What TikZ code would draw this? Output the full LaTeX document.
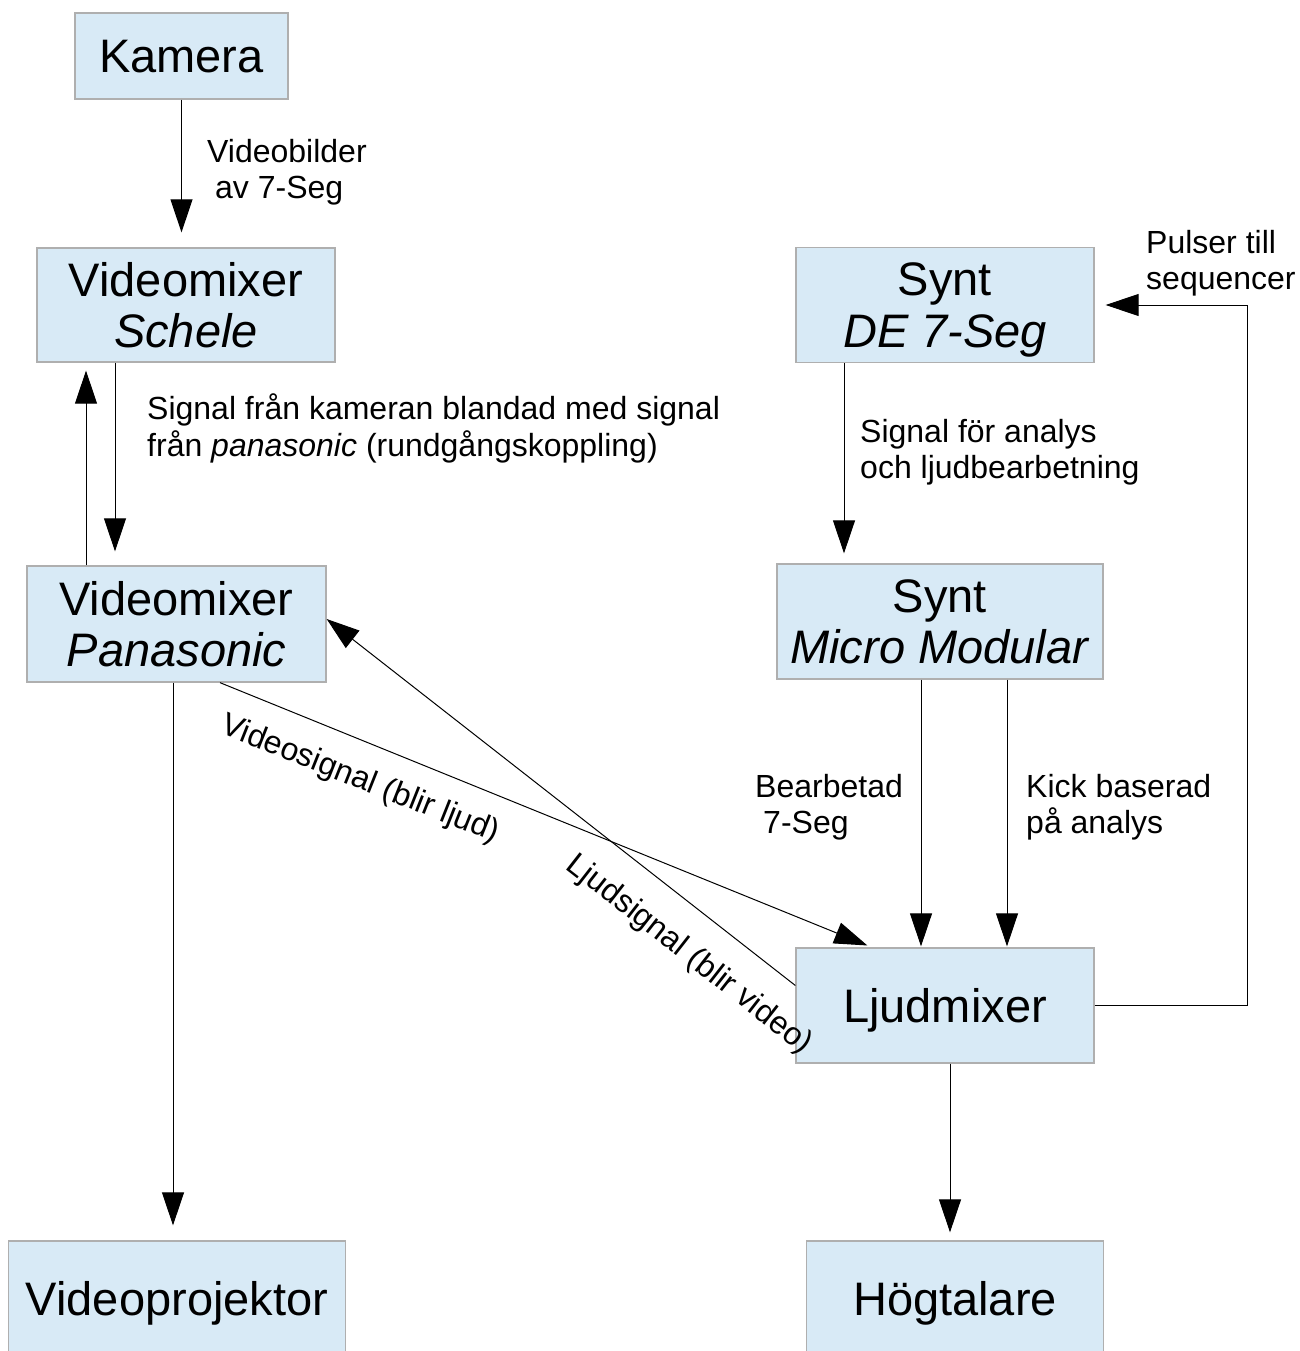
\documentclass[tikz,border=0pt]{standalone}
\usepackage{fontspec}
\setmainfont{Liberation Sans}
\usetikzlibrary{arrows.meta,calc}
\definecolor{boxfill}{RGB}{216,234,246}
\definecolor{boxline}{RGB}{175,175,175}
\begin{document}
\begin{tikzpicture}[x=1pt,y=-1pt,
  box/.style={draw=boxline, line width=1.3pt, fill=boxfill, inner sep=0pt,
    align=center, text depth=0pt, font=\fontsize{47}{51.5}\selectfont},
  lbl/.style={inner sep=0pt, align=left, anchor=north west, font=\fontsize{32}{36}\selectfont},
  rlbl/.style={inner sep=0pt, anchor=center, font=\fontsize{32}{36}\selectfont},
  arr/.style={draw=black, line width=1pt, -{Triangle[length=33pt,width=22pt]}},
]
\useasboundingbox (0,0) rectangle (1299,1351);

% boxes
\node[box, minimum width=213pt, minimum height=86pt]  (kam)  at (181.5,56)   {Kamera};
\node[box, minimum width=298pt, minimum height=114pt] (sch)  at (186,305)    {Videomixer\\\textit{Schele}};
\node[box, minimum width=299pt, minimum height=116pt] (pan)  at (176.5,624)  {Videomixer\\\textit{Panasonic}};
\node[box, minimum width=337pt, minimum height=114pt] (proj) at (177,1298)   {Videoprojektor};
\node[box, minimum width=298pt, minimum height=115pt] (de)   at (945,305)    {Synt\\\textit{DE 7-Seg}};
\node[box, minimum width=326pt, minimum height=115pt] (mm)   at (940,621.5)  {Synt\\\textit{Micro Modular}};
\node[box, minimum width=298pt, minimum height=115pt] (ljud) at (945,1005.5) {Ljudmixer};
\node[box, minimum width=297pt, minimum height=114pt] (hog)  at (955,1298)   {Högtalare};

% connectors
\draw[arr, shorten >=15pt] (kam.south) -- (kam.south |- sch.north);
\draw[arr, shorten >=14pt] ([xshift=-71pt]sch.south) -- ([xshift=-71pt]sch.south |- pan.north);
\draw[arr, shorten >=8pt] ([xshift=-90.5pt]pan.north) -- ([xshift=-90.5pt]pan.north |- sch.south);
\draw[arr, shorten >=15pt] ([xshift=-3.5pt]pan.south) -- ([xshift=-3.5pt]pan.south |- proj.north);
\coordinate (vsigend) at ([xshift=-73pt]ljud.north);
\draw[arr, shorten >=5pt] ([xshift=43.5pt]pan.south) -- (vsigend);
\draw[arr] ([yshift=20pt]ljud.west) -- ([yshift=5pt]pan.east);
\draw[arr, shorten >=10pt] ([xshift=-101pt]de.south) -- ([xshift=-101pt]de.south |- mm.north);
\draw[arr, shorten >=1pt] ([xshift=-19pt]mm.south) -- ([xshift=-19pt]mm.south |- ljud.north);
\draw[arr, shorten >=1pt] ([xshift=67pt]mm.south) -- ([xshift=67pt]mm.south |- ljud.north);
\draw[arr, shorten >=8pt] ([xshift=5pt]ljud.south) -- ([xshift=5pt]ljud.south |- hog.north);
\coordinate (pc) at (1247,305);
\draw[arr, shorten >=11pt] (ljud.east) -| (pc) -- (de.east);

% labels
\node[lbl] (l1) at (207,139) {Videobilder\\\hspace*{0.25em}av 7-Seg};
\node[lbl] (l2) at (147,394) {Signal från kameran blandad med signal\\från \textit{panasonic} (rundgångskoppling)};
\node[lbl] (l3) at (860,419) {Signal för analys\\och ljudbearbetning};
\node[lbl] (l4) at (755,774) {Bearbetad\\\hspace*{0.25em}7-Seg};
\node[lbl] (l5) at (1026,774) {Kick baserad\\på analys};
\node[lbl] (l6) at (1146,230) {Pulser till\\sequencer};
\node[rlbl, rotate=-21.7] (l7) at (360,780) {Videosignal (blir ljud)};
\node[rlbl, rotate=-38] (l8) at (689,955) {Ljudsignal (blir video)};
\end{tikzpicture}
\end{document}
